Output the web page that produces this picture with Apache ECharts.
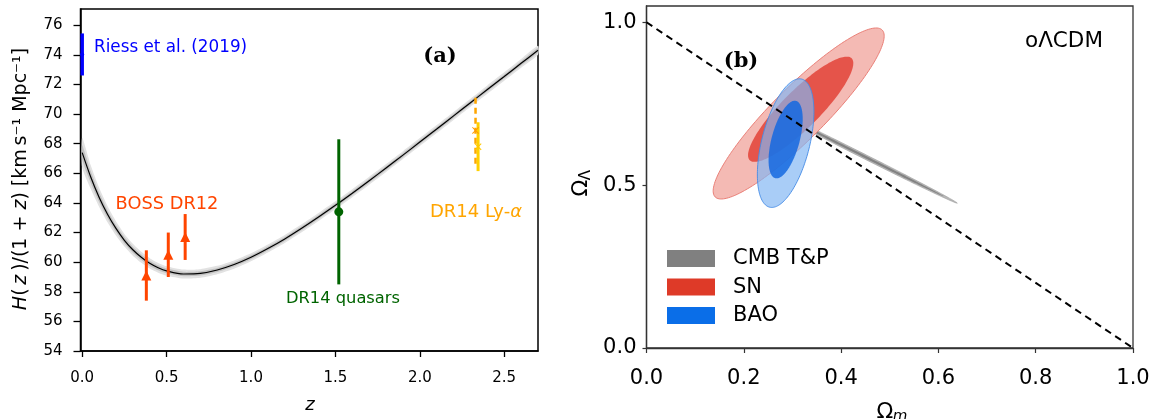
<!DOCTYPE html>
<html>
<head>
<meta charset="utf-8">
<script src="https://cdn.jsdelivr.net/npm/echarts@6/dist/echarts.min.js"></script>
<style>
  html, body { margin: 0; padding: 0; background: #fff; }
  #chart { width: 1156px; height: 419px; }
</style>
</head>
<body>
<div id="chart"></div>
<script>
// ---------- Panel (a): expansion history H(z)/(1+z) ----------
// best-fit curve sampled in redshift
const curveZ = [0, 0.05, 0.1, 0.15, 0.2, 0.25, 0.3, 0.35, 0.4, 0.45, 0.5, 0.6, 0.7, 0.8, 0.9, 1.0,
  1.1, 1.2, 1.3, 1.4, 1.5, 1.6, 1.7, 1.8, 1.9, 2.0, 2.1, 2.2, 2.3, 2.4, 2.5, 2.6, 2.7];
const curveH = [67.40, 65.77, 64.39, 63.24, 62.28, 61.48, 60.84, 60.33, 59.92, 59.62, 59.41, 59.20,
  59.24, 59.47, 59.84, 60.33, 60.92, 61.57, 62.29, 63.05, 63.84, 64.66, 65.50, 66.36, 67.23, 68.11,
  68.99, 69.88, 70.77, 71.66, 72.54, 73.43, 74.31];
// half-widths of the shaded uncertainty bands around the curve
const bandOuter = [1.00, 0.80, 0.65, 0.55, 0.48, 0.43, 0.40, 0.37, 0.35, 0.33, 0.32, 0.30,
  0.29, 0.28, 0.28, 0.27, 0.27, 0.27, 0.27, 0.27, 0.27, 0.27, 0.27, 0.27, 0.27, 0.27,
  0.27, 0.27, 0.27, 0.28, 0.28, 0.29, 0.30];
const bandInner = bandOuter.map(w => w * 0.5);

// measurements: redshift, value, 1-sigma error
const riessZ = [0.0], riessH = [74.03], riessErr = [1.42];
const bossZ = [0.38, 0.51, 0.61], bossH = [59.1, 60.5, 61.7], bossErr = [1.7, 1.5, 1.55];
const qsoZ = [1.52], qsoH = [63.4], qsoErr = [4.9];
const lyaAutoZ = [2.33], lyaAutoH = [68.9], lyaAutoErr = [2.25];
const lyaCrossZ = [2.345], lyaCrossH = [67.8], lyaCrossErr = [1.65];

const zTicks = [0, 0.5, 1.0, 1.5, 2.0, 2.5];
const hTicks = [54, 56, 58, 60, 62, 64, 66, 68, 70, 72, 74, 76];

// ---------- Panel (b): (Ωm, ΩΛ) confidence regions ----------
// each region: [centre Ωm, centre ΩΛ, major half-axis (dΩm, dΩΛ), minor half-axis (dΩm, dΩΛ)]
const cmbOuter = [0.4506, 0.586, 0.1883, -0.1414, -0.0021, -0.0061];
const cmbInner = [0.4506, 0.586, 0.1600, -0.1200, -0.0011, -0.0032];
const snOuter  = [0.3128, 0.7200, 0.1716, 0.2563, 0.0380, -0.0568];
const snInner  = [0.3169, 0.7330, 0.1047, 0.1564, 0.0272, -0.0406];
const baoOuter = [0.2860, 0.6290, 0.0329, 0.1967, 0.0479, -0.0178];
const baoInner = [0.2860, 0.6400, 0.0214, 0.1187, 0.0278, -0.0111];
// flat-universe line ΩΛ = 1 − Ωm
const flatLine = [[0, 1], [1, 0]];
const omTicks = [0, 0.2, 0.4, 0.6, 0.8, 1.0];
const olTicks = [0, 0.5, 1.0];

const legendItems = ['CMB T&P', 'SN', 'BAO'];
const legendColors = ['#808080', '#de3a28', '#0a6ee8'];

const FONT = 'DejaVu Sans';
const chart = echarts.init(document.getElementById('chart'));

function errorBarSeries(zs, hs, errs, color, width, dash) {
  return {
    type: 'custom', xAxisIndex: 0, yAxisIndex: 0, silent: true, z: 4,
    data: zs.map((z, i) => [z, hs[i] - errs[i], hs[i] + errs[i]]),
    encode: { x: 0, y: [1, 2] },
    renderItem: (params, api) => {
      const a = api.coord([api.value(0), api.value(1)]);
      const b = api.coord([api.value(0), api.value(2)]);
      return {
        type: 'line',
        shape: { x1: a[0], y1: a[1], x2: b[0], y2: b[1] },
        style: { stroke: color, lineWidth: width, lineDash: dash || null }
      };
    }
  };
}

function markerSeries(zs, hs, symbol, size, color) {
  return {
    type: 'scatter', xAxisIndex: 0, yAxisIndex: 0, silent: true, z: 5,
    data: zs.map((z, i) => [z, hs[i]]),
    symbol, symbolSize: size,
    itemStyle: { color, opacity: 1 }
  };
}

function bandSeries(widths, color) {
  return {
    type: 'custom', xAxisIndex: 0, yAxisIndex: 0, silent: true, z: 2,
    data: [[curveZ[0], curveH[0]]],
    encode: { x: 0, y: 1 },
    renderItem: (params, api) => {
      const pts = [];
      for (let i = 0; i < curveZ.length; i++) pts.push(api.coord([curveZ[i], curveH[i] + widths[i]]));
      for (let i = curveZ.length - 1; i >= 0; i--) pts.push(api.coord([curveZ[i], curveH[i] - widths[i]]));
      return { type: 'polygon', shape: { points: pts, smooth: 0.2 }, style: { fill: color } };
    }
  };
}

function regionSeries(e, fill, stroke, lw) {
  return {
    type: 'custom', xAxisIndex: 1, yAxisIndex: 1, silent: true, z: 2,
    data: [e],
    encode: { x: 0, y: 1 },
    renderItem: (params, api) => {
      const pts = [];
      const n = 160;
      for (let k = 0; k < n; k++) {
        const t = 2 * Math.PI * k / n, c = Math.cos(t), s = Math.sin(t);
        pts.push(api.coord([
          api.value(0) + c * api.value(2) + s * api.value(4),
          api.value(1) + c * api.value(3) + s * api.value(5)
        ]));
      }
      return { type: 'polygon', shape: { points: pts }, style: { fill, stroke: stroke || null, lineWidth: lw || 0 } };
    }
  };
}

const fmt1 = v => Number(v).toFixed(1);

const legendGraphics = [];
legendItems.forEach((name, i) => {
  const y = 250 + i * 28.5;
  legendGraphics.push({ type: 'rect', shape: { x: 667, y: y, width: 48, height: 17 }, style: { fill: legendColors[i] } });
  legendGraphics.push({ type: 'text', x: 733, y: y + 9, style: { text: name, fontFamily: FONT, fontSize: 21, fill: '#000', align: 'left', verticalAlign: 'middle' } });
});

const option = {
  animation: false,
  backgroundColor: '#fff',
  grid: [
    { left: 80.5, top: 9, width: 457.5, height: 342, show: true, borderColor: '#000', borderWidth: 1.5, backgroundColor: 'transparent' },
    { left: 646.5, top: 6, width: 486.5, height: 342, show: true, borderColor: '#333', borderWidth: 1.3, backgroundColor: 'transparent' }
  ],
  xAxis: [
    {
      type: 'value', gridIndex: 0, min: -0.01, max: 2.7,
      axisLine: { show: true, onZero: false, lineStyle: { color: '#000', width: 1.5 } },
      axisTick: { show: true, length: 6, customValues: zTicks, lineStyle: { color: '#000', width: 1.3 } },
      axisLabel: { customValues: zTicks, formatter: fmt1, fontFamily: FONT, fontSize: 15, color: '#000', margin: 20 },
      splitLine: { show: false }
    },
    {
      type: 'value', gridIndex: 1, min: 0, max: 1, interval: 0.2,
      axisLine: { show: true, onZero: false, lineStyle: { color: '#333', width: 1.3 } },
      axisTick: { show: true, length: 5, customValues: omTicks, lineStyle: { color: '#333', width: 1.2 } },
      axisLabel: { customValues: omTicks, formatter: fmt1, fontFamily: FONT, fontSize: 21, color: '#000', margin: 20 },
      splitLine: { show: false }
    }
  ],
  yAxis: [
    {
      type: 'value', gridIndex: 0, min: 54, max: 77.1,
      axisLine: { show: true, onZero: false, lineStyle: { color: '#000', width: 1.5 } },
      axisTick: { show: true, length: 7, customValues: hTicks, lineStyle: { color: '#000', width: 1.3 } },
      axisLabel: { customValues: hTicks, fontFamily: FONT, fontSize: 15, color: '#000', margin: 18 },
      splitLine: { show: false }
    },
    {
      type: 'value', gridIndex: 1, min: 0, max: 1.05,
      axisLine: { show: true, onZero: false, lineStyle: { color: '#333', width: 1.3 } },
      axisTick: { show: true, length: 4, customValues: olTicks, lineStyle: { color: '#333', width: 1.2 } },
      axisLabel: { customValues: olTicks, formatter: fmt1, fontFamily: FONT, fontSize: 21, color: '#000', margin: 10 },
      splitLine: { show: false }
    }
  ],
  series: [
    // panel (a)
    bandSeries(bandOuter, '#e2e2e2'),
    bandSeries(bandInner, '#c2c2c2'),
    {
      type: 'line', xAxisIndex: 0, yAxisIndex: 0, silent: true, z: 3,
      data: curveZ.map((z, i) => [z, curveH[i]]),
      smooth: 0.3, showSymbol: false,
      lineStyle: { color: '#000', width: 1.2 }
    },
    errorBarSeries(riessZ, riessH, riessErr, '#0000ff', 3.5),
    markerSeries(riessZ, riessH, 'circle', 4, '#0000ff'),
    errorBarSeries(bossZ, bossH, bossErr, '#ff4500', 3),
    markerSeries(bossZ, bossH, 'triangle', 10, '#ff4500'),
    errorBarSeries(qsoZ, qsoH, qsoErr, '#006400', 3),
    markerSeries(qsoZ, qsoH, 'circle', 9, '#006400'),
    errorBarSeries(lyaAutoZ, lyaAutoH, lyaAutoErr, '#ffa500', 2.5, [6, 4]),
    markerSeries(lyaAutoZ, lyaAutoH, 'path://M0,1L1,0L5,4L9,0L10,1L6,5L10,9L9,10L5,6L1,10L0,9L4,5Z', 7, '#ff9900'),
    errorBarSeries(lyaCrossZ, lyaCrossH, lyaCrossErr, '#ffd000', 3),
    markerSeries(lyaCrossZ, lyaCrossH, 'path://M0,1L1,0L5,4L9,0L10,1L6,5L10,9L9,10L5,6L1,10L0,9L4,5Z', 7, '#ffc800'),

    // panel (b)
    regionSeries(cmbOuter, 'rgba(160,160,160,0.75)', 'rgba(150,150,150,0.9)', 0.6),
    regionSeries(cmbInner, 'rgba(120,120,120,0.85)'),
    regionSeries(snOuter, '#f4bab4', '#ea8078', 1),
    regionSeries(snInner, '#e5544a'),
    regionSeries(baoOuter, 'rgba(128,182,243,0.68)', 'rgba(70,140,230,0.9)', 1),
    regionSeries(baoInner, 'rgba(20,105,225,0.85)'),
    {
      type: 'line', xAxisIndex: 1, yAxisIndex: 1, silent: true, z: 6,
      data: flatLine, showSymbol: false,
      lineStyle: { color: '#000', width: 2, type: [7, 5] }
    }
  ],
  graphic: [
    // panel (a) annotations
    { type: 'text', x: 21, y: 179, rotation: Math.PI / 2,
      style: {
        text: '{i|H}(\u2009{i|z}\u2009)/(1 + {i|z}) [km\u2009s\u207B\u00B9 Mpc\u207B\u00B9]',
        fontFamily: FONT, fontSize: 19, fill: '#000', align: 'center', verticalAlign: 'middle',
        rich: { i: { fontFamily: FONT, fontSize: 19, fontStyle: 'italic', fill: '#000' } }
      } },
    { type: 'text', x: 310, y: 405, style: { text: 'z', fontFamily: FONT, fontSize: 18, fontStyle: 'italic', fill: '#000', align: 'center', verticalAlign: 'middle' } },
    { type: 'text', x: 94, y: 48, style: { text: 'Riess et al. (2019)', fontFamily: FONT, fontSize: 16.8, fill: '#0000ff', align: 'left', verticalAlign: 'middle' } },
    { type: 'text', x: 167, y: 204, style: { text: 'BOSS DR12', fontFamily: FONT, fontSize: 17.8, fill: '#ff4500', align: 'center', verticalAlign: 'middle' } },
    { type: 'text', x: 286, y: 299, style: { text: 'DR14 quasars', fontFamily: FONT, fontSize: 16.3, fill: '#006400', align: 'left', verticalAlign: 'middle' } },
    { type: 'text', x: 430, y: 212,
      style: {
        text: 'DR14 Ly-{i|α}', fontFamily: FONT, fontSize: 18, fill: '#ffa500', align: 'left', verticalAlign: 'middle',
        rich: { i: { fontFamily: FONT, fontSize: 18, fontStyle: 'italic', fill: '#ffa500' } }
      } },
    { type: 'text', x: 440, y: 57, style: { text: '(a)', fontFamily: 'DejaVu Serif', fontWeight: 'bold', fontSize: 21, fill: '#000', align: 'center', verticalAlign: 'middle' } },

    // panel (b) annotations
    { type: 'text', x: 741, y: 62, style: { text: '(b)', fontFamily: 'DejaVu Serif', fontWeight: 'bold', fontSize: 21, fill: '#000', align: 'center', verticalAlign: 'middle' } },
    { type: 'text', x: 1025, y: 41, style: { text: 'oΛCDM', fontFamily: FONT, fontSize: 21.5, fill: '#000', align: 'left', verticalAlign: 'middle' } },
    { type: 'group', x: 581, y: 184, rotation: Math.PI / 2, children: [
      { type: 'text', x: -4, y: 0, style: { text: 'Ω', fontFamily: FONT, fontSize: 22, fill: '#000', align: 'center', verticalAlign: 'middle' } },
      { type: 'text', x: 9, y: 5, style: { text: 'Λ', fontFamily: FONT, fontSize: 15, fill: '#000', align: 'center', verticalAlign: 'middle' } }
    ] },
    { type: 'group', x: 890, y: 412, children: [
      { type: 'text', x: -5, y: 0, style: { text: 'Ω', fontFamily: FONT, fontSize: 22, fill: '#000', align: 'center', verticalAlign: 'middle' } },
      { type: 'text', x: 10, y: 5, style: { text: 'm', fontFamily: FONT, fontSize: 15, fontStyle: 'italic', fill: '#000', align: 'center', verticalAlign: 'middle' } }
    ] }
  ].concat(legendGraphics)
};

chart.setOption(option);
</script>
</body>
</html>
